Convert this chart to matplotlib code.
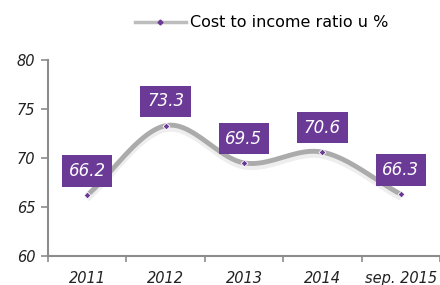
import numpy as np
import matplotlib
matplotlib.use("Agg")
import matplotlib.pyplot as plt
import matplotlib.patheffects as pe

# data
categories = ["2011", "2012", "2013", "2014", "sep. 2015"]
ratio = [66.2, 73.3, 69.5, 70.6, 66.3]
series_name = "Cost to income ratio u %"

purple = "#6b3a96"
grey_line = "#ababab"
axis_grey = "#8c8c8c"

x = np.arange(len(categories))
y = np.array(ratio)

# smooth curve (Catmull-Rom style, like Excel's smoothed line)
def smooth(xs, ys, n=40):
    px = np.concatenate([[2 * xs[0] - xs[1]], xs, [2 * xs[-1] - xs[-2]]])
    py = np.concatenate([[2 * ys[0] - ys[1]], ys, [2 * ys[-1] - ys[-2]]])
    ox, oy = [], []
    for i in range(1, len(px) - 2):
        t = np.linspace(0, 1, n)
        for p, out in ((px, ox), (py, oy)):
            p0, p1, p2, p3 = p[i - 1], p[i], p[i + 1], p[i + 2]
            out.extend(0.5 * (2 * p1 + (-p0 + p2) * t
                              + (2 * p0 - 5 * p1 + 4 * p2 - p3) * t ** 2
                              + (-p0 + 3 * p1 - 3 * p2 + p3) * t ** 3))
    return np.array(ox), np.array(oy)

sx, sy = smooth(x.astype(float), y)

fig = plt.figure(figsize=(4.4, 2.85), dpi=100)
ax = fig.add_axes([48 / 440, 29 / 285, 392 / 440, 196 / 285])

ax.plot(sx, sy, color=grey_line, lw=3.5, solid_capstyle="butt", zorder=2,
        path_effects=[pe.SimpleLineShadow(offset=(0, -3), shadow_color="#aaaaaa", alpha=0.2),
                      pe.Normal()])
ax.plot(x, y, linestyle="none", marker="D", markersize=3.5, color=purple,
        markeredgecolor="white", markeredgewidth=0.6, zorder=3)

# legend proxy
ax.plot([], [], color="#bdbdbd", lw=2.5, marker="D", markersize=2.5,
        markerfacecolor=purple, markeredgecolor=purple, label=series_name)
ax.legend(loc="center", bbox_to_anchor=(0.545, 1.19), frameon=False,
          fontsize=11.5, handlelength=3.2, handletextpad=0.3, borderpad=0)

for xi, yi in zip(x, y):
    ax.annotate(f"{yi:.1f}", (xi, yi), xytext=(0, 17.5), textcoords="offset points",
                ha="center", va="center", color="white", style="italic", fontsize=12,
                bbox=dict(boxstyle="square,pad=0.4", fc=purple, ec="none"), zorder=4)

ax.set_xlim(-0.5, -0.5 + 392 / 80.7)
ax.set_ylim(60, 80)
ax.set_yticks([60, 65, 70, 75, 80])
ax.set_xticks(x)
ax.set_xticklabels(categories)
ax.set_xticks(np.arange(-0.5, len(categories), 1.0), minor=True)
ax.tick_params(axis="x", which="major", length=0, pad=11)
ax.tick_params(axis="x", which="minor", length=4, color=axis_grey, width=1.2)
ax.tick_params(axis="y", length=5, color=axis_grey, width=1.2, pad=4)
for lbl in ax.get_xticklabels() + ax.get_yticklabels():
    lbl.set_fontstyle("italic")
    lbl.set_fontsize(10.5)
    lbl.set_color("#222222")

for s in ("top", "right"):
    ax.spines[s].set_visible(False)
for s in ("left", "bottom"):
    ax.spines[s].set_color(axis_grey)
    ax.spines[s].set_linewidth(1.5)

fig.savefig("out.png", dpi=100)
